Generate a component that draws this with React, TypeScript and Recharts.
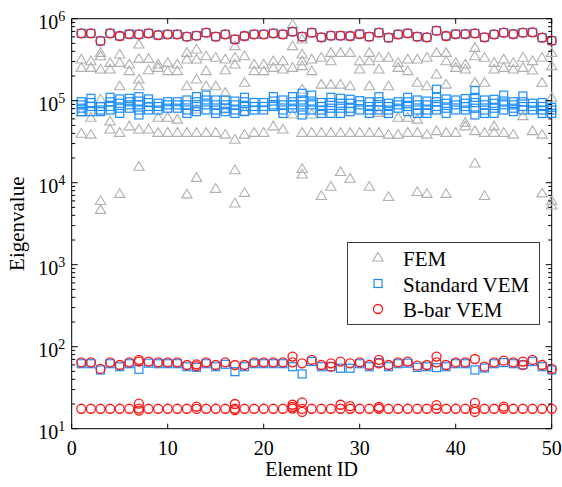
import React from 'react';
import { ScatterChart, Scatter, XAxis, YAxis, ReferenceLine } from 'recharts';

const FONT = '"Liberation Serif", "Times New Roman", Times, serif';
const W = 562;
const H = 487;
const PLOT_W = 480;
const PLOT_H = 410;
const K = 1000;

const GRAY = '#b0b0b0';
const BLUE = '#1a8cff';
const RED = '#ff1414';

const elementIds = [
  1, 2, 3, 4, 5, 6, 7, 8, 9, 10, 11, 12, 13, 14, 15, 16, 17, 18, 19, 20, 21, 22, 23, 24, 25,
  26, 27, 28, 29, 30, 31, 32, 33, 34, 35, 36, 37, 38, 39, 40, 41, 42, 43, 44, 45, 46, 47, 48, 49, 50,
];

const xTicks = [0, 10, 20, 30, 40, 50];
const yMajorTicks = [1e1, 1e2, 1e3, 1e4, 1e5, 1e6];
const yMinorSteps = [2, 3, 4, 5, 6, 7, 8, 9];

// FEM eigenvalues per element (thousands)
const femValues: number[][] = [
  [313, 248, 71, 39],
  [299, 248, 61, 38],
  [378, 344, 237, 102, 5.9, 4.6],
  [285, 237, 55, 44],
  [361, 285, 148, 40, 7.2],
  [272, 226, 48],
  [478, 319, 179, 148, 44, 15.4],
  [319, 232, 44],
  [272, 248, 61, 40],
  [285, 226, 61, 40],
  [272, 226, 58, 40],
  [378, 313, 148, 40, 7.1],
  [415, 313, 179, 77, 40, 11.3],
  [344, 226, 148, 40],
  [329, 148, 40, 8.3],
  [313, 232, 123, 77, 38],
  [456, 329, 272, 33, 14, 5.5],
  [344, 163, 73, 38, 7.4],
  [272, 226, 40],
  [272, 226, 40],
  [299, 248, 48],
  [299, 237, 44],
  [838, 456, 248, 67],
  [550, 361, 299, 260, 135, 40, 14.5, 12.4],
  [313, 226, 67, 40],
  [329, 155, 40, 6.8],
  [378, 299, 155, 40, 8.8],
  [378, 155, 40, 13.3],
  [378, 148, 40, 11],
  [299, 237, 40],
  [378, 299, 148, 40, 8.8],
  [329, 237, 70, 40],
  [329, 148, 38, 6.6],
  [285, 248, 61, 38],
  [313, 226, 61, 40],
  [313, 163, 58, 40, 7.6],
  [329, 148, 38, 7.2],
  [378, 206, 42],
  [378, 299, 155, 40, 7.2],
  [285, 248, 40],
  [272, 237, 53, 48],
  [435, 344, 163, 42, 16.9],
  [329, 163, 40, 6.8],
  [285, 237, 48, 40],
  [313, 248, 40],
  [285, 237, 38],
  [329, 248, 64],
  [300, 230, 42],
  [329, 163, 38, 7.3],
  [378, 260, 107, 5.9, 5.2],
];

// Standard VEM mid-band eigenvalues per element (thousands)
const vemBand: number[][] = [
  [97, 89, 81, 73.5],
  [107, 95, 85, 73.5],
  [85, 77, 73.5],
  [110, 97, 85, 77],
  [105, 93, 81, 70],
  [107, 97, 89, 81],
  [112, 99, 89, 77, 67],
  [105, 95, 85, 77],
  [93, 85, 77],
  [97, 89, 81],
  [97, 89, 81],
  [102, 89, 77, 70],
  [112, 97, 85, 73.5],
  [117, 102, 89, 77],
  [102, 89, 77, 70],
  [102, 89, 81, 73.5],
  [99, 89, 77, 70],
  [110, 97, 85, 73.5],
  [95, 85, 77],
  [95, 85, 77],
  [112, 99, 89, 85],
  [102, 89, 77, 70],
  [112, 97, 89, 81],
  [123, 102, 89, 77, 67],
  [117, 99, 89, 77],
  [95, 85, 77, 70],
  [110, 95, 81, 70],
  [107, 93, 81, 70],
  [104, 93, 81, 73.5],
  [100, 89, 77],
  [97, 85, 77, 70],
  [112, 97, 85, 77],
  [93, 85, 77, 70],
  [97, 89, 81],
  [110, 97, 85, 73.5],
  [102, 89, 77, 70],
  [99, 89, 77, 70],
  [138, 112, 97, 85, 77],
  [105, 93, 81, 70],
  [102, 89, 77],
  [106, 93, 85, 77],
  [133, 110, 95, 81, 67],
  [102, 89, 77, 70],
  [104, 93, 81, 70],
  [117, 99, 89, 77],
  [97, 89, 81, 73.5],
  [114, 97, 85, 77],
  [93, 85, 77],
  [95, 85, 77, 70],
  [83, 77, 70],
];

// Largest eigenvalue per element (thousands), shared by both VEM variants
const highValues = [
  663, 663, 535, 663, 615, 650, 644, 663, 632, 644,
  644, 604, 621, 676, 604, 644, 560, 615, 644, 644,
  663, 644, 695, 604, 676, 592, 621, 621, 615, 650,
  604, 676, 587, 644, 663, 604, 592, 714, 615, 650,
  650, 663, 592, 644, 676, 650, 676, 682, 587, 540,
];

const vemMid = [
  62, 62, 52, 62, 57, 62, 53, 63, 62, 62,
  62, 57, 56, 62, 57, 61, 49.6, 57, 62, 62,
  62, 62, 57, 46.5, 66, 57, 57, 54.6, 54.6, 62,
  57, 64, 57, 62, 63, 56, 57, 55.6, 57, 62,
  62, 52, 55, 62, 64, 62, 60, 66, 57, 52,
];

const bbarMid = [
  64.5, 64.5, 53.5, 64.5, 59.8, 64.5, 65.8, 65.8, 64.5, 64.5,
  64.5, 59.8, 61, 64.5, 59.8, 64.5, 59.8, 59.8, 64.5, 64.5,
  64.5, 64.5, 64.5, 62.7, 68.9, 59.8, 62.7, 65.8, 62.7, 64.5,
  59.8, 68.9, 59.8, 64.5, 65.8, 58.7, 59.8, 64.5, 59.8, 64.5,
  64.5, 70.8, 57.1, 64.5, 67.6, 64.5, 65.8, 68.9, 59.8, 53.5,
];

const bbarMidExtra: [number, number][] = [
  [7, 69], [13, 58], [23, 75.7], [27, 57.1], [32, 62.7], [38, 75.7], [47, 60],
];

const bbarLow = [
  17.5, 17.5, 17.5, 17.5, 17.5, 17.5, 17.6, 17.5, 17.5, 17.5,
  17.5, 17.5, 17.4, 17.5, 17.5, 17.5, 17.5, 17.5, 17.5, 17.5,
  17.5, 17.5, 17.6, 17.4, 17.5, 17.5, 17.5, 17.5, 17.5, 17.5,
  17.5, 17.5, 17.5, 17.5, 17.5, 17.5, 17.5, 17.5, 17.5, 17.5,
  17.5, 17.4, 17.5, 17.5, 17.5, 17.5, 17.5, 17.5, 17.5, 17.5,
];

const bbarLowExtra: [number, number][] = [
  [7, 20.2], [7, 16.6], [13, 18.6], [17, 20], [17, 16.8], [23, 19.6], [23, 18.4],
  [24, 21], [24, 16], [28, 19.6], [29, 18.8], [32, 18.4], [38, 19.4], [42, 20.6],
  [42, 16], [45, 18.6],
];

// ---- build tables for the library ----
const femData = elementIds.flatMap((id, i) => femValues[i].map((v) => ({ x: id, y: v * K })));
const vemData = [
  ...elementIds.flatMap((id, i) => vemBand[i].map((v) => ({ x: id, y: v * K }))),
  ...elementIds.map((id, i) => ({ x: id, y: highValues[i] * K })),
  ...elementIds.map((id, i) => ({ x: id, y: vemMid[i] })),
];
const bbarData = [
  ...elementIds.map((id, i) => ({ x: id, y: highValues[i] * K })),
  ...elementIds.map((id, i) => ({ x: id, y: bbarMid[i] })),
  ...bbarMidExtra.map(([id, v]) => ({ x: id, y: v })),
  ...elementIds.map((id, i) => ({ x: id, y: bbarLow[i] })),
  ...bbarLowExtra.map(([id, v]) => ({ x: id, y: v })),
];

const yTicks = [
  ...yMajorTicks,
  ...yMajorTicks.slice(0, -1).flatMap((d) => yMinorSteps.map((s) => d * s)),
].sort((a, b) => a - b);

// ---- marker shapes ----
const Tri = ({ cx, cy }: { cx: number; cy: number }) => (
  <polygon
    points={`${cx},${cy - 5.7} ${cx + 5.2},${cy + 3} ${cx - 5.2},${cy + 3}`}
    fill="none"
    stroke={GRAY}
    strokeWidth={1.1}
  />
);
const Sq = ({ cx, cy }: { cx: number; cy: number }) => (
  <rect x={cx - 4} y={cy - 4} width={8} height={8} fill="none" stroke={BLUE} strokeWidth={1.2} />
);
const Circ = ({ cx, cy }: { cx: number; cy: number }) => (
  <circle cx={cx} cy={cy} r={4.5} fill="none" stroke={RED} strokeWidth={1.3} />
);

const triShape = (p: any) => <Tri cx={p.cx} cy={p.cy} />;
const sqShape = (p: any) => <Sq cx={p.cx} cy={p.cy} />;
const circShape = (p: any) => <Circ cx={p.cx} cy={p.cy} />;

// ---- ticks ----
const XTick = (props: any) => {
  const { x, y, payload } = props;
  return (
    <g>
      <line x1={x} x2={x} y1={y} y2={y - 5} stroke="#000" strokeWidth={1} />
      <line x1={x} x2={x} y1={y - PLOT_H} y2={y - PLOT_H + 5} stroke="#000" strokeWidth={1} />
      <text x={x} y={y + 26.5} textAnchor="middle" fontFamily={FONT} fontSize={20} fill="#000">
        {payload.value}
      </text>
    </g>
  );
};

const YTick = (props: any) => {
  const { x, y, payload } = props;
  const v = payload.value;
  const major = yMajorTicks.includes(v);
  const len = major ? 6 : 3.5;
  const exp = Math.round(Math.log10(v));
  return (
    <g>
      <line x1={x} x2={x + len} y1={y} y2={y} stroke="#000" strokeWidth={1} />
      <line x1={x + PLOT_W} x2={x + PLOT_W - len} y1={y} y2={y} stroke="#000" strokeWidth={1} />
      {major && (
        <text x={x - 6.5} y={y + 10} textAnchor="end" fontFamily={FONT} fill="#000">
          <tspan fontSize={20}>10</tspan>
          <tspan fontSize={14} dy={-7.5}>
            {exp}
          </tspan>
        </text>
      )}
    </g>
  );
};

const XLabel = (props: any) => {
  const vb = props.viewBox ?? { x: 71.7, y: 428.7, width: 480, height: 58.3 };
  return (
    <text x={vb.x + vb.width / 2} y={vb.y + 47.3} textAnchor="middle" fontFamily={FONT} fontSize={20} fill="#000">
      Element ID
    </text>
  );
};

const YLabel = (props: any) => {
  const vb = props.viewBox ?? { x: 0, y: 18.7, width: 71.7, height: 410 };
  const cx = vb.x + 24;
  const cy = vb.y + vb.height / 2;
  return (
    <text
      x={cx}
      y={cy}
      transform={`rotate(-90, ${cx}, ${cy})`}
      textAnchor="middle"
      fontFamily={FONT}
      fontSize={21}
      fill="#000"
    >
      Eigenvalue
    </text>
  );
};

const legendItems = [
  { name: 'FEM', Marker: Tri },
  { name: 'Standard VEM', Marker: Sq },
  { name: 'B-bar VEM', Marker: Circ },
];

export default function App() {
  return (
    <div style={{ position: 'absolute', left: 0, top: 0, width: W, height: H, background: '#fff' }}>
      <ScatterChart width={W} height={H} margin={{ top: 18.7, right: 10.3, left: 0, bottom: 0 }}>
        <XAxis
          type="number"
          dataKey="x"
          domain={[0, 50]}
          ticks={xTicks}
          interval={0}
          height={58.3}
          tickSize={0}
          tickMargin={0}
          tickLine={false}
          axisLine={{ stroke: '#000', strokeWidth: 1 }}
          tick={<XTick />}
          label={<XLabel />}
        />
        <YAxis
          type="number"
          dataKey="y"
          scale="log"
          domain={[10, 1000000]}
          ticks={yTicks}
          interval={0}
          width={71.7}
          tickSize={0}
          tickMargin={0}
          tickLine={false}
          axisLine={{ stroke: '#000', strokeWidth: 1 }}
          tick={<YTick />}
          label={<YLabel />}
        />
        <Scatter data={femData} shape={triShape} isAnimationActive={false} />
        <Scatter data={vemData} shape={sqShape} isAnimationActive={false} />
        <Scatter data={bbarData} shape={circShape} isAnimationActive={false} />
        <ReferenceLine y={1000000} stroke="#000" strokeWidth={1} />
        <ReferenceLine x={50} stroke="#000" strokeWidth={1} />
      </ScatterChart>
      <svg
        width={W}
        height={H}
        style={{ position: 'absolute', left: 0, top: 0, pointerEvents: 'none' }}
      >
        <rect x={347.5} y={242.5} width={192} height={82} fill="#fff" stroke="#404040" strokeWidth={1} />
        {legendItems.map((it, i) => {
          const cy = 258 + i * 25.5;
          const M = it.Marker;
          return (
            <g key={it.name}>
              <M cx={378} cy={cy} />
              <text x={403} y={cy + 8} fontFamily={FONT} fontSize={21} fill="#000">
                {it.name}
              </text>
            </g>
          );
        })}
      </svg>
    </div>
  );
}
